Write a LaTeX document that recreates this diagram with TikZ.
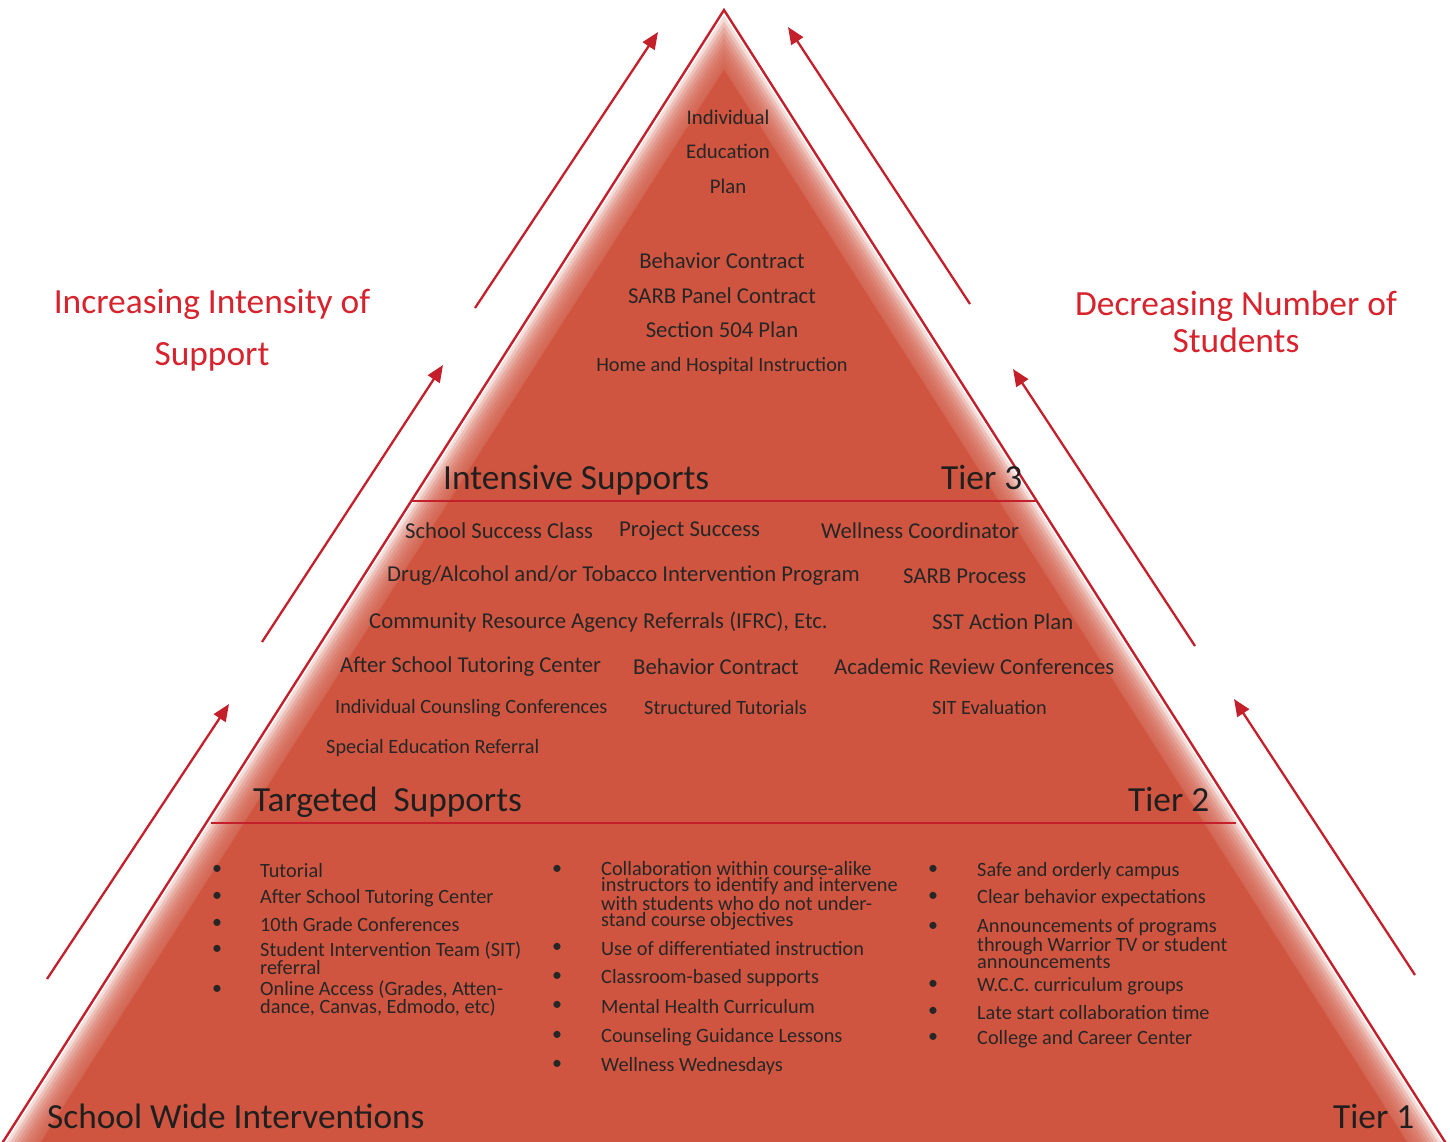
\documentclass[tikz,border=0pt]{standalone}
\usepackage{fontspec}
\setmainfont{Carlito}
\usetikzlibrary{calc,arrows.meta}

\definecolor{pyrfill}{RGB}{207,85,64}
\definecolor{pyrline}{RGB}{196,32,43}
\definecolor{labelred}{RGB}{214,35,45}
\definecolor{inktext}{RGB}{38,38,38}

\tikzset{
    txt/.style={inner sep=0pt, text=inktext, font=\fontsize{22.7}{26}\selectfont},
    item/.style={txt, anchor=west, align=left},
    smallitem/.style={item, font=\fontsize{20.3}{16}\selectfont},
    dot/.style={txt, font=\fontsize{20}{16}\selectfont},
    tiername/.style={txt, anchor=base west, text=black!88, font=\fontsize{35.3}{40}\selectfont},
    sidelabel/.style={inner sep=0pt, text=labelred, align=center},
    uparrow/.style={draw=pyrline, line width=2.3pt, -{Triangle[length=17pt,width=14pt]}}
}

\begin{document}
\begin{tikzpicture}[x=1pt, y=-1pt]
        \useasboundingbox (0,0) rectangle (1450,1141);
        \clip (0,0) rectangle (1450,1141);

        % pyramid, faded towards its edges
        \coordinate (apex) at (724,10);
        \coordinate (bl) at (-34,1200);
        \coordinate (br) at (1482,1200);
        \coordinate (ctr) at (724,784.1);
        \foreach \d in {3,6,...,30}
            {
                \pgfmathsetmacro\s{(415.9-\d)/415.9}
                \fill[pyrfill, opacity=0.2] ($(ctr)!\s!(apex)$) -- ($(ctr)!\s!(bl)$) -- ($(ctr)!\s!(br)$) -- cycle;
            }
        \pgfmathsetmacro\s{(415.9-32)/415.9}
        \fill[pyrfill] ($(ctr)!\s!(apex)$) -- ($(ctr)!\s!(bl)$) -- ($(ctr)!\s!(br)$) -- cycle;

        \draw[pyrline, line width=2.4pt] (bl) -- (apex) -- (br);
        \draw[pyrline, line width=2.4pt] (412,501) -- (1036,501);
        \draw[pyrline, line width=2.4pt] (211,823) -- (1236,823);

        % arrows on both sides
        \coordinate (la1) at (47,979);   \coordinate (lb1) at (229,704);
        \coordinate (la2) at (262,642);  \coordinate (lb2) at (443,365);
        \coordinate (la3) at (475,308);  \coordinate (lb3) at (658,32);
        \coordinate (ra1) at (1415,975); \coordinate (rb1) at (1234,699);
        \coordinate (ra2) at (1195,646); \coordinate (rb2) at (1013,369);
        \coordinate (ra3) at (970,304);  \coordinate (rb3) at (788,27);
        \foreach \i in {1,2,3}
            {
                \draw[uparrow] (la\i) -- (lb\i);
                \draw[uparrow] (ra\i) -- (rb\i);
            }

        \node[sidelabel, font=\fontsize{35.4}{52}\selectfont] (intensity) at (212,330) {Increasing Intensity of\\Support};
        \node[sidelabel, font=\fontsize{35.4}{37}\selectfont] (decrease) at (1236,322) {Decreasing Number of\\Students};

        % tier 3
        \node[txt, font=\fontsize{20.8}{24}\selectfont] (iep1) at (728,117) {Individual};
        \node[txt, font=\fontsize{20.8}{24}\selectfont] (iep2) at (728,151) {Education};
        \node[txt, font=\fontsize{20.8}{24}\selectfont] (iep3) at (728,186) {Plan};
        \node[txt] (bcontract) at (722,261) {Behavior Contract};
        \node[txt] (sarbpanel) at (722,296) {SARB Panel Contract};
        \node[txt] (sec504) at (722,330) {Section 504 Plan};
        \node[txt, font=\fontsize{20.3}{24}\selectfont] (homehosp) at (722,366) {Home and Hospital Instruction};
        \node[tiername] (intensive) at (443,489) {Intensive Supports};
        \node[tiername] (tier3) at (941,489) {Tier 3};

        % tier 2
        \node[item] (t2a) at (405,531) {School Success Class};
        \node[item] (t2b) at (619,531) {Project Success};
        \node[item] (t2c) at (821,531) {Wellness Coordinator};
        \node[item] (t2d) at (387,576) {Drug/Alcohol and/or Tobacco Intervention Program};
        \node[item] (t2e) at (903,576) {SARB Process};
        \node[item] (t2f) at (369,622) {Community Resource Agency Referrals (IFRC), Etc.};
        \node[item] (t2g) at (932,622) {SST Action Plan};
        \node[item] (t2h) at (340,667) {After School Tutoring Center};
        \node[item] (t2i) at (633,667) {Behavior Contract};
        \node[item] (t2j) at (834,667) {Academic Review Conferences};
        \node[smallitem] (t2k) at (335,708) {Individual Counsling Conferences};
        \node[smallitem] (t2l) at (644,708) {Structured Tutorials};
        \node[smallitem] (t2m) at (932,708) {SIT Evaluation};
        \node[smallitem] (t2n) at (326,748) {Special Education Referral};
        \node[tiername] (targeted) at (253,811) {Targeted\ \ Supports};
        \node[tiername] (tier2) at (1128,811) {Tier 2};

        % tier 1
        \foreach \y [count=\n] in {870,897,924,950,990}
            \node[dot] (dl\n) at (217,\y) {•};
        \foreach \y [count=\n] in {870,948,977,1006,1036,1065}
            \node[dot] (dm\n) at (557,\y) {•};
        \foreach \y [count=\n] in {870,897,927,985,1012,1038}
            \node[dot] (dr\n) at (933,\y) {•};

        \node[smallitem] (t1a) at (260,871) {Tutorial};
        \node[smallitem] (t1b) at (260,898) {After School Tutoring Center};
        \node[smallitem] (t1c) at (260,925) {10th Grade Conferences};
        \node[smallitem] (t1d) at (260,958.5) {Student Intervention Team (SIT)\\referral};
        \node[smallitem] (t1e) at (260,998.5) {Online Access (Grades, Atten-\\dance, Canvas, Edmodo, etc)};

        \node[smallitem] (t1f) at (601,895.5) {Collaboration within course-alike\\instructors to identify and intervene\\with students who do not under-\\stand course objectives};
        \node[smallitem] (t1g) at (601,949) {Use of differentiated instruction};
        \node[smallitem] (t1h) at (601,978) {Classroom-based supports};
        \node[smallitem] (t1i) at (601,1007) {Mental Health Curriculum};
        \node[smallitem] (t1j) at (601,1037) {Counseling Guidance Lessons};
        \node[smallitem] (t1k) at (601,1066) {Wellness Wednesdays};

        \node[smallitem] (t1l) at (977,871) {Safe and orderly campus};
        \node[smallitem] (t1m) at (977,898) {Clear behavior expectations};
        \node[smallitem] (t1n) at (977,943.5) {Announcements of programs\\through Warrior TV or student\\announcements};
        \node[smallitem] (t1o) at (977,986) {W.C.C. curriculum groups};
        \node[smallitem] (t1p) at (977,1013) {Late start collaboration time};
        \node[smallitem] (t1q) at (977,1039) {College and Career Center};

        \node[tiername] (schoolwide) at (47,1128) {School Wide Interventions};
        \node[tiername] (tier1) at (1333,1128) {Tier 1};
    \end{tikzpicture}
\end{document}
